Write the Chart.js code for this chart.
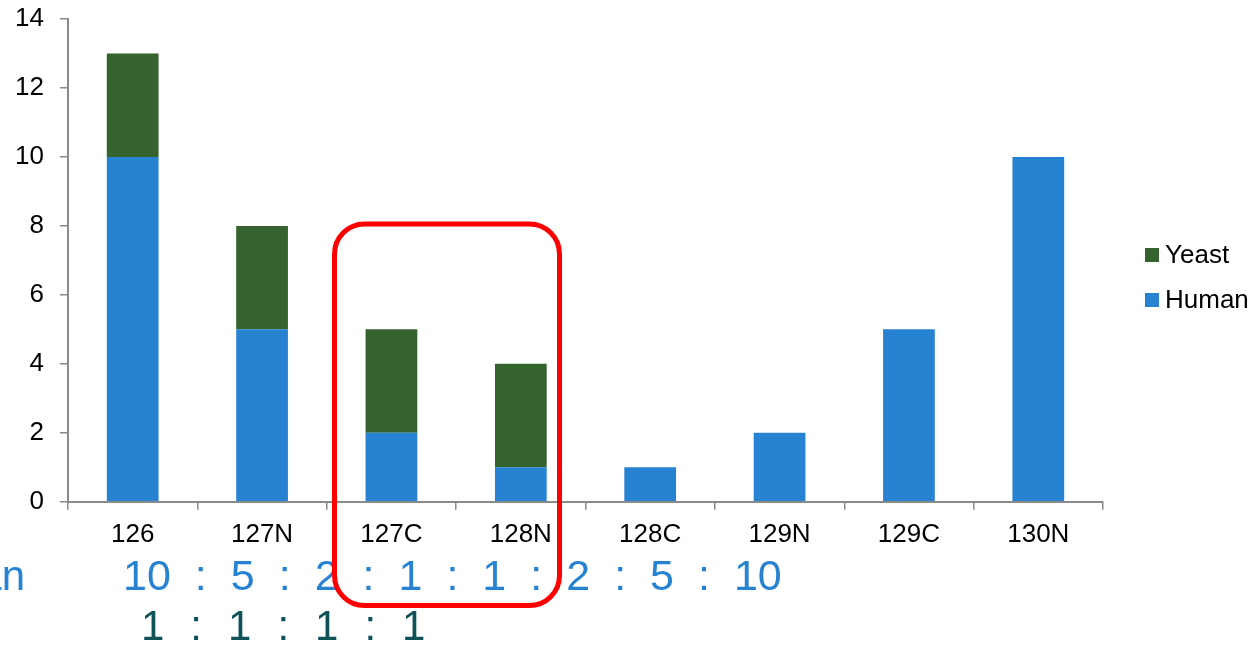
<!DOCTYPE html>
<html>
<head>
<meta charset="utf-8">
<script src="https://cdn.jsdelivr.net/npm/chart.js@4.4.1/dist/chart.umd.min.js"></script>
<style>
  html, body { margin: 0; padding: 0; background: #ffffff; }
  #wrap { width: 1253px; height: 647px; position: relative; }
</style>
</head>
<body>
<div id="wrap"><canvas id="c" width="1253" height="647"></canvas></div>
<script>
// TMT channels and the amount of each proteome spiked into them
const categories = ['126', '127N', '127C', '128N', '128C', '129N', '129C', '130N'];
const human = [10, 5, 2, 1, 1, 2, 5, 10];
const yeast = [3, 3, 3, 3, 0, 0, 0, 0];
const yeastMix = [1, 1, 1, 1];
const yTickMax = 14;
const yTickStep = 2;

const FAMILY = '"Liberation Sans", Arial, Helvetica, sans-serif';
const BLUE = '#2783d1';
const GREEN = '#35632d';
const TEAL = '#0e5258';
const AXIS = '#8a8a8a';

Chart.defaults.font.family = FAMILY;
Chart.defaults.font.size = 26;
Chart.defaults.color = '#000000';

function roundedBox(ctx, x0, y0, x1, y1, r) {
  ctx.beginPath();
  ctx.moveTo(x0 + r, y0);
  ctx.lineTo(x1 - r, y0);
  ctx.arcTo(x1, y0, x1, y0 + r, r);
  ctx.lineTo(x1, y1 - r);
  ctx.arcTo(x1, y1, x1 - r, y1, r);
  ctx.lineTo(x0 + r, y1);
  ctx.arcTo(x0, y1, x0, y1 - r, r);
  ctx.lineTo(x0, y0 + r);
  ctx.arcTo(x0, y0, x0 + r, y0, r);
  ctx.closePath();
}

// writes tokens one after another with a fixed gap between them
function ratioRow(ctx, tokens, x, baseline, size, gap, color) {
  ctx.font = size + 'px ' + FAMILY;
  ctx.fillStyle = color;
  ctx.textAlign = 'left';
  ctx.textBaseline = 'alphabetic';
  tokens.forEach((t) => {
    ctx.fillText(t, x, baseline);
    x += ctx.measureText(t).width + gap;
  });
}

function withColons(values) {
  const out = [];
  values.forEach((v, i) => {
    if (i) out.push(':');
    out.push(String(v));
  });
  return out;
}

const overlay = {
  id: 'overlay',
  afterDraw(chart) {
    const ctx = chart.ctx;
    ctx.save();

    // legend, top series first
    ctx.font = '26px ' + FAMILY;
    ctx.textAlign = 'left';
    ctx.textBaseline = 'alphabetic';
    chart.data.datasets.slice().reverse().forEach((ds, i) => {
      const top = 248 + i * 45;
      ctx.fillStyle = ds.backgroundColor;
      ctx.fillRect(1145, top, 14, 14);
      ctx.fillStyle = '#000000';
      ctx.fillText(ds.label, 1165, top + 15);
    });

    // mixing ratios under the channels
    ctx.font = '42px ' + FAMILY;
    ctx.fillStyle = BLUE;
    ctx.textAlign = 'right';
    ctx.fillText('Human', 25, 590);
    ratioRow(ctx, withColons(human), 123, 590, 43, 24, BLUE);
    ratioRow(ctx, withColons(yeastMix), 141, 640, 42, 26, TEAL);

    // highlight around the 127C / 128N channels
    ctx.strokeStyle = '#ff0000';
    ctx.lineWidth = 5;
    roundedBox(ctx, 334.5, 224, 559.5, 605.5, 30);
    ctx.stroke();

    ctx.restore();
  }
};

new Chart(document.getElementById('c'), {
  type: 'bar',
  data: {
    labels: categories,
    datasets: [
      { label: 'Human', data: human, backgroundColor: BLUE, borderWidth: 0 },
      { label: 'Yeast', data: yeast, backgroundColor: GREEN, borderWidth: 0 }
    ]
  },
  options: {
    responsive: false,
    animation: false,
    devicePixelRatio: 1,
    layout: { padding: { left: 15, right: 150, top: 19, bottom: 88 } },
    datasets: { bar: { barPercentage: 0.4, categoryPercentage: 1.0 } },
    plugins: {
      legend: { display: false },
      tooltip: { enabled: false }
    },
    scales: {
      x: {
        stacked: true,
        offset: true,
        grid: {
          offset: true,
          drawOnChartArea: false,
          drawTicks: true,
          tickLength: 8,
          color: AXIS,
          lineWidth: 1.5
        },
        border: { color: AXIS, width: 2 },
        ticks: { padding: 9, color: '#000000', font: { size: 26 }, maxRotation: 0 }
      },
      y: {
        stacked: true,
        min: 0,
        max: yTickMax,
        afterFit(scale) {
          scale.width = 53;
          scale.paddingTop = 0;
          scale.paddingBottom = 0;
        },
        grid: {
          drawOnChartArea: false,
          drawTicks: true,
          tickLength: 8,
          color: AXIS,
          lineWidth: 1.5
        },
        border: { color: AXIS, width: 2 },
        ticks: { stepSize: yTickStep, padding: 16, color: '#000000', font: { size: 26 } }
      }
    }
  },
  plugins: [overlay]
});
</script>
</body>
</html>
